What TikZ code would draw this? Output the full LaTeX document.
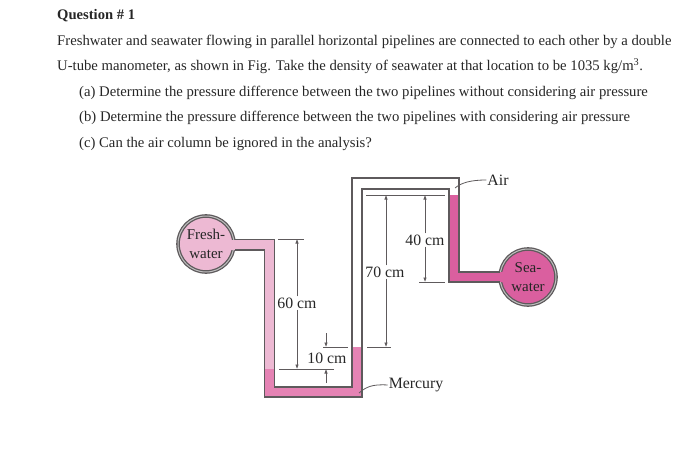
\documentclass[tikz,border=0pt]{standalone}
\usepackage{fontspec}
\setmainfont{Liberation Serif}
\usepackage{xcolor}
\usetikzlibrary{positioning,arrows.meta}
\definecolor{tubeline}{HTML}{5E5A5C}
\definecolor{freshpink}{HTML}{EDB9D3}
\definecolor{seapink}{HTML}{DA5F9F}
\definecolor{mercpink}{HTML}{E583B4}
\tikzset{
  textline/.style={anchor=base west,inner sep=0pt,text=black!85,font=\fontsize{14.7}{17}\selectfont},
  figlabel/.style={inner sep=1pt,text=black!85,font=\fontsize{15.8}{17}\selectfont},
  pipenode/.style={circle,draw=tubeline,line width=1.3pt,double=black!25,double distance=1pt,minimum size=56pt,inner sep=0pt,align=center,text=black!85,font=\fontsize{15}{17}\selectfont},
  dimline/.style={draw=tubeline,line width=.8pt},
  dimarrow/.style={draw=tubeline,line width=.6pt,-{Latex[length=4.5pt,width=3.5pt]}},
  tubewall/.style={draw=tubeline,line width=1.3pt}
}
\begin{document}
\begin{tikzpicture}[x=1pt,y=-1pt]
\def\freshfill{(225,240) -- (274.5,240) -- (274.5,369) -- (264.5,369) -- (264.5,250) -- (225,250) -- cycle}
\def\mercfill{(264.5,369) -- (274.5,369) -- (274.5,387) -- (352,387) -- (352,347) -- (362,347) -- (362,397) -- (264.5,397) -- cycle}
\def\seafill{(449,195) -- (459,195) -- (459,272) -- (508,272) -- (508,282) -- (449,282) -- cycle}
\def\wallA{(235,239.5) -- (274.5,239.5) -- (274.5,387) -- (352,387) -- (352,178) -- (459,178) -- (459,272) -- (500,272)}
\def\wallB{(235,250) -- (264.5,250) -- (264.5,397) -- (362,397) -- (362,189) -- (449,189) -- (449,282) -- (500,282)}
\useasboundingbox (0,0) rectangle (700,465);
% question text
\node[textline,font=\fontsize{14.6}{17}\selectfont\bfseries] (title) at (57,20) {Question \# 1};
\node[textline] (lineA) at (57,46) {Freshwater and seawater flowing in parallel horizontal pipelines are connected to each other by a double};
\node[textline] (lineB) at (57,71) {U-tube manometer, as shown in Fig. Take the density of seawater at that location to be 1035 kg/m\textsuperscript{3}.};
\node[textline] (lineC) at (79,97) {(a) Determine the pressure difference between the two pipelines without considering air pressure};
\node[textline] (lineD) at (79,122) {(b) Determine the pressure difference between the two pipelines with considering air pressure};
\node[textline] (lineE) at (79,147) {(c) Can the air column be ignored in the analysis?};
% pipes
\node[pipenode,fill=freshpink] (fresh) at (206,244) {Fresh-\\[2.5pt]water};
\node[pipenode,fill=seapink] (sea) at (528,277) {Sea-\\[2pt]water};
\fill[freshpink] \freshfill;
\fill[mercpink] \mercfill;
\fill[seapink] \seafill;
\draw[tubewall] \wallA;
\draw[tubewall] \wallB;
% levels
\coordinate (topA) at (278,239);
\coordinate (topB) at (304,239);
\draw[dimline] (topA) -- (topB);
\coordinate (airA) at (366,195);
\coordinate (airB) at (445,195);
\draw[dimline] (airA) -- (airB);
\coordinate (seaA) at (419,282);
\coordinate (seaB) at (445,282);
\draw[dimline] (seaA) -- (seaB);
\coordinate (mercA) at (323,347);
\coordinate (mercB) at (348,347);
\coordinate (mercC) at (367,347);
\coordinate (mercD) at (391,347);
\draw[dimline] (mercA) -- (mercB);
\draw[dimline] (mercC) -- (mercD);
\coordinate (lowA) at (279,369);
\coordinate (lowB) at (334,369);
\draw[dimline] (lowA) -- (lowB);
% dimensions
\node[figlabel] (sixty) at (297,303) {60 cm};
\node[figlabel] (seventy) at (385,272) {70 cm};
\node[figlabel] (forty) at (425,240) {40 cm};
\node[figlabel] (ten) at (327,358) {10 cm};
\draw[dimarrow] (sixty.north) -- (297,239);
\draw[dimarrow] (sixty.south) -- (297,369);
\draw[dimarrow] (seventy.north -| 386,0) -- (386,195);
\draw[dimarrow] (seventy.south -| 386,0) -- (386,347);
\draw[dimarrow] (forty.north) -- (425,195);
\draw[dimarrow] (forty.south) -- (425,282);
\coordinate (tenA) at (326,333);
\coordinate (tenB) at (326,383);
\draw[dimarrow] (tenA) -- (326,347);
\draw[dimarrow] (tenB) -- (326,369);
% labels
\node[figlabel] (air) at (498,180) {Air};
\node[figlabel] (mercury) at (416,385) {Mercury};
\coordinate (airend) at (455,188);
\coordinate (mercend) at (359,393);
\draw[dimline] (airend) .. controls (461,183) and (470,180) .. (air.west);
\draw[dimline] (mercend) .. controls (366,387) and (372,384) .. (mercury.west);
\end{tikzpicture}
\end{document}
